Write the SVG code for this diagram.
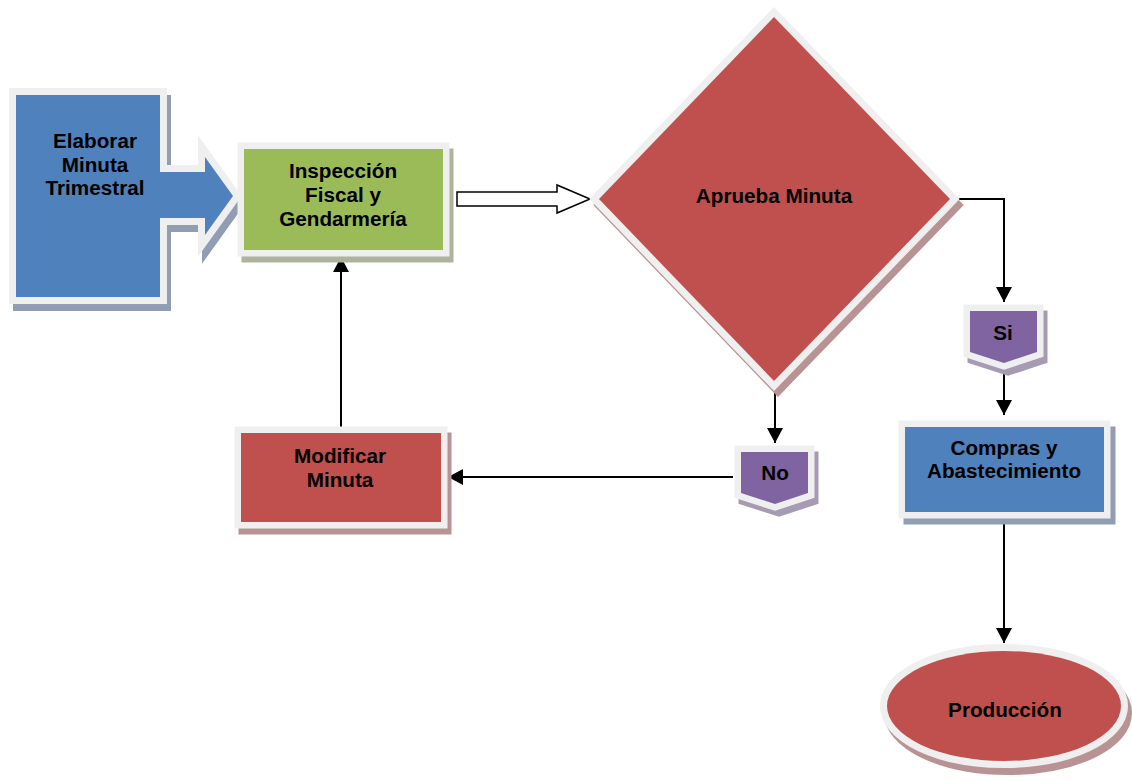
<svg xmlns="http://www.w3.org/2000/svg" width="1132" height="783" viewBox="0 0 1132 783">
<style>
.t{font-family:"Liberation Sans",Arial,sans-serif;font-weight:bold;font-size:20.7px;fill:#000;text-anchor:middle}
.fr{fill:#efefef;stroke:#efefef;stroke-linejoin:miter}
.blue{fill:#4f81bd}.green{fill:#9bbb59}.red{fill:#c0504d}.purple{fill:#8064a2}
.sb{fill:#919db2;stroke:#919db2}.sg{fill:#aeb39c;stroke:#aeb39c}.sr{fill:#b99393;stroke:#b99393}.sp{fill:#a79bb4;stroke:#a79bb4}
.ln{fill:none;stroke:#000;stroke-width:2;marker-end:url(#ah)}
</style>
<defs>
<marker id="ah" markerUnits="userSpaceOnUse" markerWidth="16" markerHeight="16" viewBox="0 0 15 16" refX="15" refY="8" orient="auto">
<path d="M0,0 L15,8 L0,16 z" fill="#000"/>
</marker>
<polygon id="pElab" points="16,95 160,95 160,172 205,172 205,157 233,196 205,235 205,218 160,218 160,297 16,297"/>
<polygon id="pDia" points="774,17 950,199 774,381 599,199"/>
<polygon id="pSi" points="970,311 1037,311 1037,352 1004,363 970,352"/>
<polygon id="pNo" points="741,452 808,452 808,493 775,504 741,493"/>
</defs>
<rect width="1132" height="783" fill="#fff"/>

<g id="connectors">
<polygon points="457,192 557,192 557,185 590,199 557,213 557,206 457,206" fill="#fff" stroke="#000" stroke-width="1.5" stroke-linejoin="miter"/>
<path class="ln" d="M958,199 H1004 V302"/>
<path class="ln" d="M1004,372 V415"/>
<path class="ln" d="M1004,519 V643"/>
<path class="ln" d="M775,390 V443"/>
<path class="ln" d="M733,477 H448"/>
<path class="ln" d="M341,427 V257"/>
</g>

<g id="elaborar">
<use href="#pElab" class="sb" stroke-width="14" transform="translate(4,7)"/>
<use href="#pElab" class="fr" stroke-width="14"/>
<use href="#pElab" class="blue"/>
<text class="t" x="95" y="148">Elaborar</text>
<text class="t" x="95" y="172">Minuta</text>
<text class="t" x="95" y="195">Trimestral</text>
</g>

<g id="inspeccion">
<rect class="sg" x="238" y="143" width="211" height="113" transform="translate(4,6)"/>
<rect class="fr" x="238" y="143" width="211" height="113"/>
<rect class="green" x="244" y="149" width="199" height="101"/>
<text class="t" x="343" y="178">Inspección</text>
<text class="t" x="343" y="202">Fiscal y</text>
<text class="t" x="343" y="226">Gendarmería</text>
</g>

<g id="aprueba">
<use href="#pDia" class="sr" stroke-width="14" transform="translate(4,6)"/>
<use href="#pDia" class="fr" stroke-width="14"/>
<use href="#pDia" class="red"/>
<text class="t" x="774" y="203">Aprueba Minuta</text>
</g>

<g id="si">
<use href="#pSi" class="sp" stroke-width="13" transform="translate(4,6)"/>
<use href="#pSi" class="fr" stroke-width="13"/>
<use href="#pSi" class="purple"/>
<text class="t" x="1003" y="340">Si</text>
</g>

<g id="no">
<use href="#pNo" class="sp" stroke-width="13" transform="translate(4,6)"/>
<use href="#pNo" class="fr" stroke-width="13"/>
<use href="#pNo" class="purple"/>
<text class="t" x="775" y="480">No</text>
</g>

<g id="modificar">
<rect class="sr" x="235" y="427" width="212" height="101" transform="translate(4,6)"/>
<rect class="fr" x="235" y="427" width="212" height="101"/>
<rect class="red" x="241" y="433" width="200" height="89"/>
<text class="t" x="340" y="463">Modificar</text>
<text class="t" x="340" y="487">Minuta</text>
</g>

<g id="compras">
<rect class="sb" x="899" y="421" width="211" height="97" transform="translate(5,6)"/>
<rect class="fr" x="899" y="421" width="211" height="97"/>
<rect class="blue" x="905" y="427" width="199" height="85"/>
<text class="t" x="1004" y="455">Compras y</text>
<text class="t" x="1004" y="478">Abastecimiento</text>
</g>

<g id="produccion">
<ellipse class="sr" cx="1004" cy="706" rx="117" ry="55" stroke-width="14" transform="translate(4,7)"/>
<ellipse class="fr" cx="1004" cy="706" rx="117" ry="55" stroke-width="14"/>
<ellipse class="red" cx="1004" cy="706" rx="117" ry="55"/>
<text class="t" x="1005" y="717">Producción</text>
</g>
</svg>
